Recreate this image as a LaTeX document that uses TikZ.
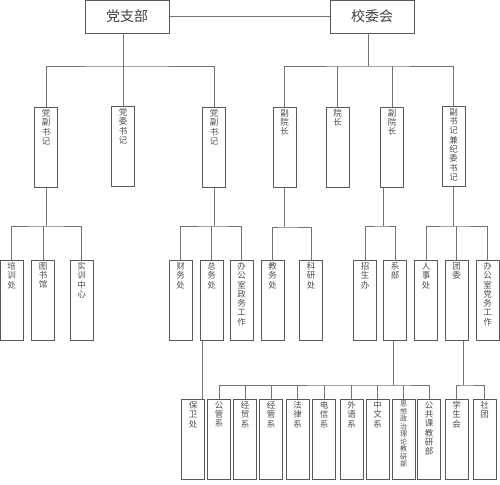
\documentclass[tikz,border=0pt]{standalone}
\usepackage{fontspec}
\usepackage{tikz}
\newfontfamily\cjk{Noto Sans CJK SC}
\newcommand\vt[1]{\parbox[c][80pt][t]{20pt}{\centering\vspace*{2pt}#1}}

\begin{document}
\begin{tikzpicture}[x=1pt,y=-1pt,
  head/.style={draw=black!65,line width=.7pt,minimum width=84pt,minimum height=33pt,inner sep=0pt,font=\cjk\fontsize{14}{16}\selectfont,text=black!75},
  unit/.style={draw=black!65,line width=.7pt,minimum width=23pt,minimum height=80pt,inner sep=0pt,anchor=north,font=\cjk\fontsize{8.5}{9.3}\selectfont,text=black!70},
  link/.style={draw=black!55,line width=.6pt}]
\path[use as bounding box] (0,0) rectangle (500,484);
% top level
\node[head] (dzb) at (127,16.5) {党支部};
\node[head] (xwh) at (372,16.5) {校委会};
% second level
\node[unit] (fsj1) at (46,107) {\vt{党\\副\\书\\记}};
\node[unit] (dwsj) at (123,106) {\vt{党\\委\\书\\记}};
\node[unit] (fsj2) at (214,107) {\vt{党\\副\\书\\记}};
\node[unit] (fyz1) at (284.5,107) {\vt{副\\院\\长}};
\node[unit] (yz) at (337.5,107) {\vt{院\\长}};
\node[unit] (fyz2) at (392,107) {\vt{副\\院\\长}};
\node[unit] (fsjjw) at (453.5,106) {\vt{副\\书\\记\\兼\\纪\\委\\书\\记}};
% third level
\node[unit] (pxc) at (11.5,260) {\vt{培\\训\\处}};
\node[unit] (tsg) at (43,260) {\vt{图\\书\\馆}};
\node[unit] (sxzx) at (81.5,260) {\vt{实\\训\\中\\心}};
\node[unit] (cwc) at (180.5,260) {\vt{财\\务\\处}};
\node[unit] (zwc) at (211.5,260) {\vt{总\\务\\处}};
\node[unit] (bgszw) at (241.5,260) {\vt{办\\公\\室\\政\\务\\工\\作}};
\node[unit] (jwc) at (272.5,260) {\vt{教\\务\\处}};
\node[unit] (kyc) at (311,260) {\vt{科\\研\\处}};
\node[unit] (zsb) at (365,260) {\vt{招\\生\\办}};
\node[unit] (xb) at (395,260) {\vt{系\\部}};
\node[unit] (rsc) at (426,260) {\vt{人\\事\\处}};
\node[unit] (tw) at (456.5,260) {\vt{团\\委}};
\node[unit] (bgsdw) at (487.5,260) {\vt{办\\公\\室\\党\\务\\工\\作}};
% fourth level
\node[unit] (bwc) at (193,399) {\vt{保\\卫\\处}};
\node[unit] (gg) at (219,399) {\vt{公\\管\\系}};
\node[unit] (jm) at (245,399) {\vt{经\\贸\\系}};
\node[unit] (jg) at (271,399) {\vt{经\\管\\系}};
\node[unit] (fl) at (297.5,399) {\vt{法\\律\\系}};
\node[unit] (dx) at (324,399) {\vt{电\\信\\系}};
\node[unit] (wy) at (351.5,399) {\vt{外\\语\\系}};
\node[unit] (zw) at (377.5,399) {\vt{中\\文\\系}};
\node[unit,font=\cjk\fontsize{7}{7.5}\selectfont] (sz) at (403.5,399) {\vt{思\\想\\政\\治\\理\\论\\教\\研\\部}};
\node[unit] (gk) at (429,399) {\vt{公\\共\\课\\教\\研\\部}};
\node[unit] (xsh) at (456.5,399) {\vt{学\\生\\会}};
\node[unit] (st) at (484.5,399) {\vt{社\\团}};
% bus points
\coordinate (bus1) at (123,66);
\coordinate (bus2) at (368,66);
\coordinate (bus3) at (46,226);
\coordinate (bus4) at (214,226);
\coordinate (bus5) at (284.5,227);
\coordinate (bus6) at (383,226);
\coordinate (bus7) at (453.5,226);
\coordinate (bus8) at (393,385);
\coordinate (bus9) at (463,385);
% connectors
\draw[link] (dzb.east) -- (xwh.west);
\draw[link] (dzb.south -| dwsj.north) -- (dwsj.north);
\draw[link] (fsj1.north) |- (bus1) -| (fsj2.north);
\draw[link] (xwh.south -| bus2) -- (bus2);
\draw[link] (fyz1.north) |- (bus2) -| (fsjjw.north);
\draw[link] (yz.north) -- (yz.north |- bus2);
\draw[link] (fyz2.north) -- (fyz2.north |- bus2);
\draw[link] (fsj1.south) -- (bus3);
\draw[link] (pxc.north) |- (bus3) -| (sxzx.north);
\draw[link] (tsg.north) -- (tsg.north |- bus3);
\draw[link] (fsj2.south) -- (bus4);
\draw[link] (cwc.north) |- (bus4) -| (bgszw.north);
\draw[link] (zwc.north) -- (zwc.north |- bus4);
\draw[link] (fyz1.south) -- (bus5);
\draw[link] (jwc.north) |- (bus5) -| (kyc.north);
\draw[link] (fyz2.south -| bus6) -- (bus6);
\draw[link] (zsb.north) |- (bus6) -| (xb.north);
\draw[link] (fsjjw.south) -- (bus7);
\draw[link] (rsc.north) |- (bus7) -| (bgsdw.north);
\draw[link] (tw.north) -- (tw.north |- bus7);
\draw[link] ([xshift=-9pt]zwc.south) -- ([xshift=-9pt]zwc.south |- bwc.north);
\draw[link] (xb.south -| bus8) -- (bus8);
\draw[link] (gg.north) |- (bus8) -| (gk.north);
\foreach \d in {jm,jg,fl,dx,wy,zw,sz}
  \draw[link] (\d.north) -- (\d.north |- bus8);
\draw[link] (tw.south -| bus9) -- (bus9);
\draw[link] (xsh.north) |- (bus9) -| (st.north);
\end{tikzpicture}
\end{document}
